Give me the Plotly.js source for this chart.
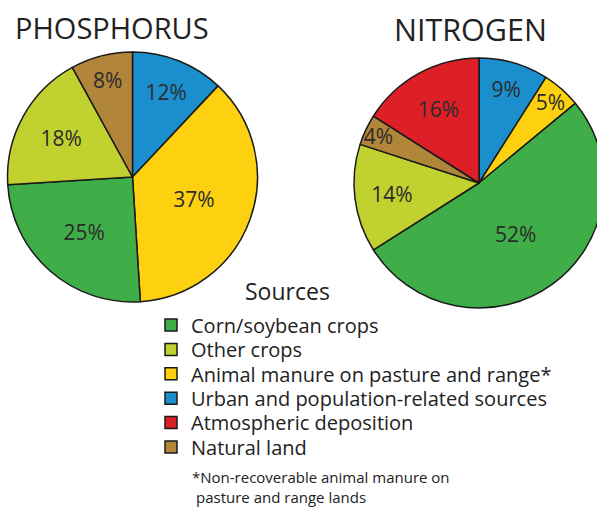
<!DOCTYPE html>
<html><head><meta charset="utf-8">
<script src="https://cdn.plot.ly/plotly-3.0.1.min.js"></script>
<style>html,body{margin:0;padding:0;overflow:hidden;background:#fff}#chart{width:612px;height:507px}</style>
</head><body><div id="chart"></div>
<script>
// Legend order of sources
var sources = ["Corn/soybean crops","Other crops","Animal manure on pasture and range*","Urban and population-related sources","Atmospheric deposition","Natural land"];
var sourceColors = ["#3fae49","#c1d230","#fdd10f","#1b8fce","#dd2027","#b1853a"];

// Phosphorus slices, clockwise from 12 o'clock
var phosLabels = ["Urban and population-related sources","Animal manure on pasture and range*","Corn/soybean crops","Other crops","Natural land"];
var phosValues = [12,37,25,18,8];

// Nitrogen slices, clockwise from 12 o'clock
var nitroLabels = ["Urban and population-related sources","Animal manure on pasture and range*","Corn/soybean crops","Other crops","Natural land","Atmospheric deposition"];
var nitroValues = [9,5,52,14,4,16];

var W = 612, H = 507;
function px(x){return x/W;}
function py(y){return 1 - y/H;}
function colorsFor(labels){return labels.map(function(l){return sourceColors[sources.indexOf(l)];});}
var line = {color:"#1a1a1a", width:1.5};
var font = "Open Sans, Liberation Sans, sans-serif";

var data = [
  {type:"pie", labels:phosLabels, values:phosValues, sort:false, direction:"clockwise", rotation:0,
   marker:{colors:colorsFor(phosLabels), line:line}, showlegend:false,
   texttemplate:"%{value}%", textposition:"inside", insidetextorientation:"horizontal",
   textfont:{family:font, size:21, color:"#2b2b2b"},
   domain:{x:[px(7.5),px(257.5)], y:[py(302),py(52)]}},
  {type:"pie", labels:nitroLabels, values:nitroValues, sort:false, direction:"clockwise", rotation:0,
   marker:{colors:colorsFor(nitroLabels), line:line}, showlegend:false,
   texttemplate:"%{value}%", textposition:"inside", insidetextorientation:"horizontal",
   textfont:{family:font, size:21, color:"#2b2b2b"},
   domain:{x:[px(354),px(604)], y:[py(308),py(58)]}}
];

var layout = {
  width:W, height:H, margin:{l:0,r:0,t:0,b:0},
  paper_bgcolor:"#fff", plot_bgcolor:"#fff",
  showlegend:true,
  uniformtext:{minsize:21, mode:"show"},
  annotations:[
    {text:"PHOSPHORUS", x:px(13), y:py(28), xref:"paper", yref:"paper", xanchor:"left", yanchor:"middle", showarrow:false, font:{family:font, size:29, color:"#222"}},
    {text:"NITROGEN", x:px(392), y:py(29), xref:"paper", yref:"paper", xanchor:"left", yanchor:"middle", showarrow:false, font:{family:font, size:30.5, color:"#222"}},
    {text:"Sources", x:px(243), y:py(291), xref:"paper", yref:"paper", xanchor:"left", yanchor:"middle", showarrow:false, font:{family:font, size:23, color:"#222"}},
    {text:"*Non-recoverable animal manure on", x:px(190), y:py(477), xref:"paper", yref:"paper", xanchor:"left", yanchor:"middle", showarrow:false, font:{family:font, size:15, color:"#222"}},
    {text:"pasture and range lands", x:px(194), y:py(497), xref:"paper", yref:"paper", xanchor:"left", yanchor:"middle", showarrow:false, font:{family:font, size:15, color:"#222"}}
  ]
};

// one legend per source so that the rows sit as in the reference; each legend entry
// comes from a tiny single-slice pie hidden at the nitrogen pie's centre
var rowY = [325, 349.4, 373.8, 398.2, 422.6, 447];
sources.forEach(function(s, i){
  var key = i === 0 ? "legend" : "legend" + (i + 1);
  data.push({type:"pie", labels:[s], values:[nitroValues[nitroLabels.indexOf(s)]], sort:false,
    marker:{colors:[sourceColors[i]], line:line}, textinfo:"none", hoverinfo:"skip",
    legend:key, showlegend:true,
    domain:{x:[px(478.95),px(479.05)], y:[py(183.05),py(182.95)]}});
  layout[key] = {x:px(151), y:py(rowY[i] - 19.5), xanchor:"left", yanchor:"top",
    bgcolor:"rgba(0,0,0,0)", font:{family:font, size:20, color:"#222"}, itemclick:false, itemdoubleclick:false};
});

Plotly.newPlot("chart", data, layout, {displayModeBar:false, staticPlot:true});
</script></body></html>
